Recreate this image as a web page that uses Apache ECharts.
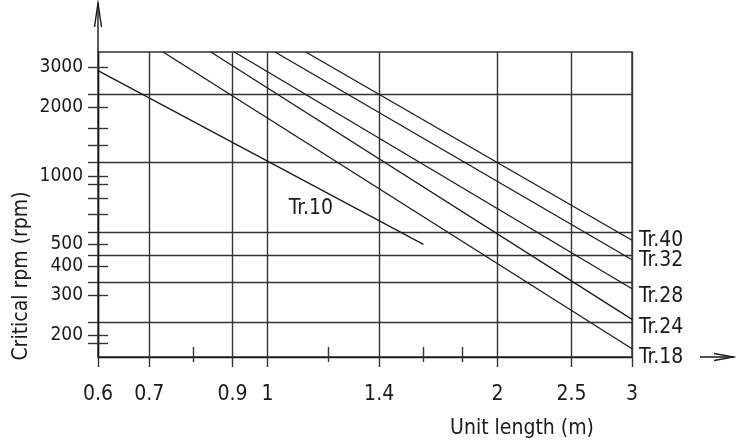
<!DOCTYPE html>
<html><head><meta charset="utf-8">
<script src="https://cdn.jsdelivr.net/npm/echarts@6/dist/echarts.min.js"></script>
<style>html,body{margin:0;padding:0;background:#fff}#c{width:736px;height:445px}</style>
</head><body><div id="c"></div>
<script>
const xMin = 0.6, xMax = 3;
const yMin = 160, yMax = 3500;
const xGridValues = [0.6, 0.7, 0.9, 1, 1.4, 2, 2.5, 3];
const xLabelValues = [0.6, 0.7, 0.9, 1, 1.4, 2, 2.5, 3];
const xMinorTicks = [0.8, 1.2, 1.6, 1.8];
const yGridValues = [227, 340, 450, 568, 1143, 2284];
const yLabelValues = [200, 300, 400, 500, 1000, 2000, 3000];
const yMinorTicks = [183, 675, 794, 915, 1357, 1612];
const seriesNames = ['Tr.10', 'Tr.18', 'Tr.24', 'Tr.28', 'Tr.32', 'Tr.40'];
const lengthStart = [0.6, 0.73, 0.843, 0.905, 1.023, 1.122];
const lengthEnd = [1.6, 3, 3, 3, 3, 3];
const rpmStart = [2900, 3500, 3500, 3500, 3500, 3500];
const rpmEnd = [500, 174, 234, 319, 428, 521];
const xAxisTitle = 'Unit length (m)';
const yAxisTitle = 'Critical rpm (rpm)';

const FONT = "'Liberation Sans Narrow','DejaVu Sans Condensed','Liberation Sans',sans-serif";
const INK = '#1a1a1a';
const GRIDC = '#333333';
const endLabelDy = { 'Tr.18': 9, 'Tr.24': 8, 'Tr.28': 8, 'Tr.32': 1, 'Tr.40': 0 };

function fmt(v) { return String(+(+v).toFixed(3)); }

const chart = echarts.init(document.getElementById('c'), null, { renderer: 'canvas' });

const baseX = { type: 'log', logBase: 10, min: xMin, max: xMax, gridIndex: 0, position: 'bottom', offset: 0 };
const baseY = { type: 'log', logBase: 10, min: yMin, max: yMax, gridIndex: 0, position: 'left', offset: 0 };

const series = seriesNames.map((name, i) => ({
  name: name,
  type: 'line',
  xAxisIndex: 0,
  yAxisIndex: 0,
  data: [[lengthStart[i], rpmStart[i]], [lengthEnd[i], rpmEnd[i]]],
  showSymbol: false,
  symbol: 'none',
  silent: true,
  lineStyle: { color: INK, width: 1.3 },
  endLabel: name === 'Tr.10' ? { show: false } : {
    show: true, formatter: '{a}', distance: 7, offset: [0, endLabelDy[name]],
    fontFamily: FONT, fontSize: 21, color: INK
  }
}));

chart.setOption({
  animation: false,
  backgroundColor: '#fff',
  grid: { left: 98, right: 104, top: 52, bottom: 88, show: true, borderColor: GRIDC, borderWidth: 1.4, containLabel: false },
  xAxis: [
    Object.assign({}, baseX, {
      axisLine: { show: true, lineStyle: { color: INK, width: 1.4 } },
      axisTick: { show: true, inside: false, length: 10, customValues: xGridValues, lineStyle: { color: GRIDC, width: 1.4 } },
      splitLine: { show: true, lineStyle: { color: GRIDC, width: 1.4 } },
      minorTick: { show: false }, minorSplitLine: { show: false },
      axisLabel: { show: true, customValues: xLabelValues, margin: 27, formatter: fmt, fontFamily: FONT, fontSize: 21, color: INK }
    }),
    Object.assign({}, baseX, {
      axisLine: { show: false },
      axisTick: { show: true, inside: true, length: 10, customValues: xMinorTicks, lineStyle: { color: GRIDC, width: 1.4 } },
      splitLine: { show: false }, axisLabel: { show: false }
    }),
    Object.assign({}, baseX, {
      axisLine: { show: false },
      axisTick: { show: true, inside: false, length: 5, customValues: xMinorTicks, lineStyle: { color: GRIDC, width: 1.4 } },
      splitLine: { show: false }, axisLabel: { show: false }
    })
  ],
  yAxis: [
    Object.assign({}, baseY, {
      axisLine: { show: true, lineStyle: { color: INK, width: 1.4 } },
      axisTick: { show: true, inside: false, length: 10, customValues: yGridValues, lineStyle: { color: GRIDC, width: 1.4 } },
      splitLine: { show: true, lineStyle: { color: GRIDC, width: 1.4 } },
      axisLabel: { show: false }
    }),
    Object.assign({}, baseY, {
      axisLine: { show: false },
      axisTick: { show: true, inside: false, length: 10, customValues: yLabelValues.concat(yMinorTicks), lineStyle: { color: GRIDC, width: 1.4 } },
      splitLine: { show: false },
      axisLabel: { show: true, customValues: yLabelValues, margin: 15, formatter: fmt, fontFamily: FONT, fontSize: 19, color: INK }
    }),
    Object.assign({}, baseY, {
      axisLine: { show: false },
      axisTick: { show: true, inside: true, length: 10, customValues: yLabelValues.concat(yMinorTicks), lineStyle: { color: GRIDC, width: 1.4 } },
      splitLine: { show: false }, axisLabel: { show: false }
    })
  ],
  series: series
});

// decorations: axis arrows, axis titles, inline label for Tr.10
const o = chart.convertToPixel({ xAxisIndex: 0, yAxisIndex: 0 }, [xMin, yMin]);
const tr = chart.convertToPixel({ xAxisIndex: 0, yAxisIndex: 0 }, [xMax, yMax]);
const t10 = chart.convertToPixel({ xAxisIndex: 0, yAxisIndex: 0 }, [1.14, 720]);
const ls = { stroke: INK, lineWidth: 1.4 };
chart.setOption({
  graphic: [
    { type: 'line', shape: { x1: o[0], y1: tr[1], x2: o[0], y2: 3 }, style: ls, silent: true },
    { type: 'polyline', shape: { points: [[o[0] - 3.5, 27], [o[0], 3], [o[0] + 3.5, 27]] }, style: Object.assign({ fill: null }, ls), silent: true },
    { type: 'line', shape: { x1: 700, y1: o[1], x2: 734, y2: o[1] }, style: ls, silent: true },
    { type: 'polyline', shape: { points: [[714, o[1] - 3.5], [734, o[1]], [714, o[1] + 3.5]] }, style: Object.assign({ fill: null }, ls), silent: true },
    { type: 'text', x: 522, y: 429, style: { text: xAxisTitle, fontFamily: FONT, fontSize: 21, fill: INK, align: 'center', verticalAlign: 'middle' }, silent: true },
    { type: 'text', x: 22, y: 276, rotation: Math.PI / 2, style: { text: yAxisTitle, fontFamily: FONT, fontSize: 21, fill: INK, align: 'center', verticalAlign: 'middle' }, silent: true },
    { type: 'text', x: t10[0], y: t10[1], style: { text: seriesNames[0], fontFamily: FONT, fontSize: 21, fill: INK, align: 'center', verticalAlign: 'middle' }, silent: true }
  ]
});
</script></body></html>
